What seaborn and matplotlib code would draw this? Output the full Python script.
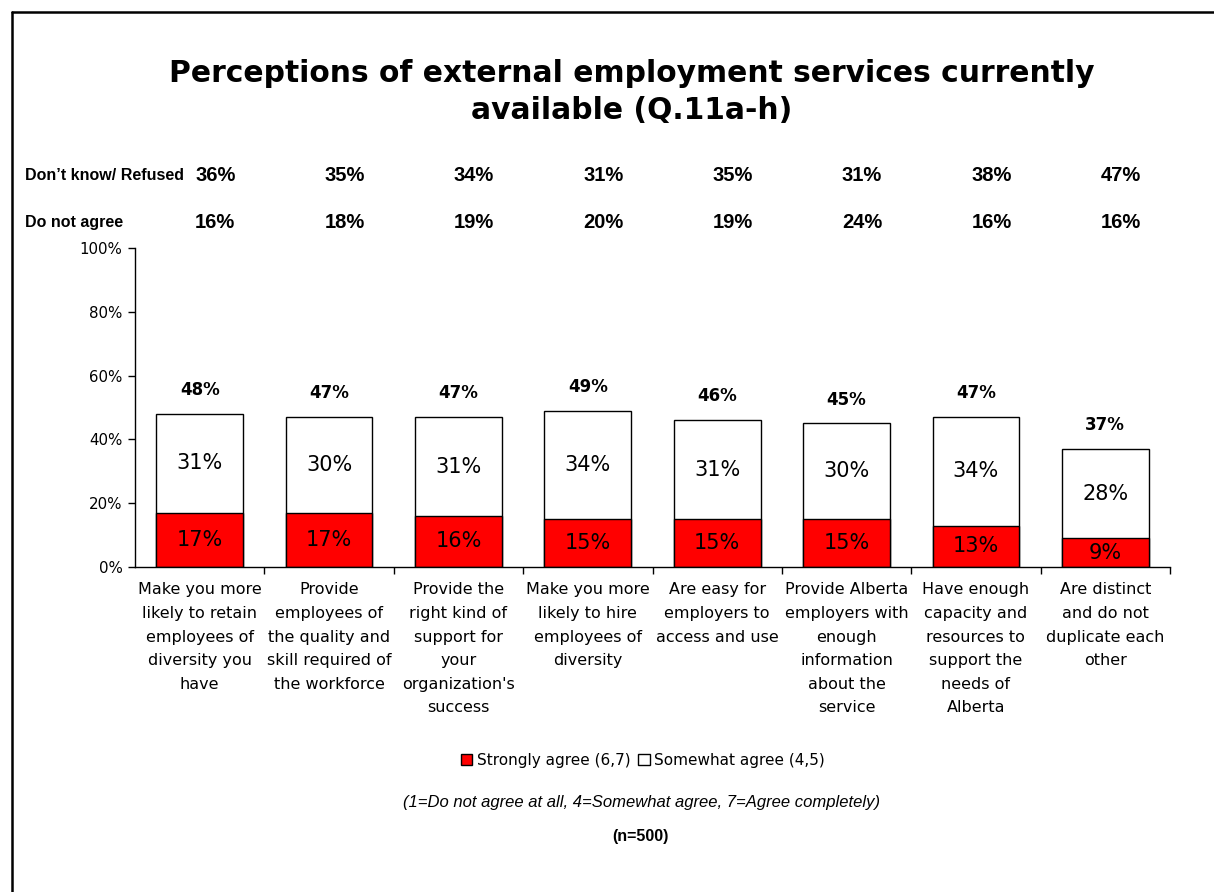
import matplotlib
matplotlib.use("Agg")
import matplotlib.pyplot as plt
import matplotlib.transforms as mtrans
import seaborn as sns
import pandas as pd
from matplotlib.patches import Patch
from matplotlib.lines import Line2D

categories = [
    "Make you more\nlikely to retain\nemployees of\ndiversity you\nhave",
    "Provide\nemployees of\nthe quality and\nskill required of\nthe workforce",
    "Provide the\nright kind of\nsupport for\nyour\norganization's\nsuccess",
    "Make you more\nlikely to hire\nemployees of\ndiversity",
    "Are easy for\nemployers to\naccess and use",
    "Provide Alberta\nemployers with\nenough\ninformation\nabout the\nservice",
    "Have enough\ncapacity and\nresources to\nsupport the\nneeds of\nAlberta",
    "Are distinct\nand do not\nduplicate each\nother",
]
strongly_agree = [17, 17, 16, 15, 15, 15, 13, 9]
somewhat_agree = [31, 30, 31, 34, 31, 30, 34, 28]
totals = [48, 47, 47, 49, 46, 45, 47, 37]
dont_know = [36, 35, 34, 31, 35, 31, 38, 47]
do_not_agree = [16, 18, 19, 20, 19, 24, 16, 16]
yticks = [0, 20, 40, 60, 80, 100]

sns.set_theme(style="white")
plt.rcParams["font.family"] = ["DejaVu Sans"]
plt.rcParams["text.color"] = "black"
plt.rcParams["xtick.color"] = "black"
plt.rcParams["ytick.color"] = "black"

W, H = 1214, 892
fig = plt.figure(figsize=(W / 100, H / 100), dpi=100)
ax = fig.add_axes([135 / W, 1 - 567 / H, (1170 - 135) / W, (567 - 248) / H])

df = pd.DataFrame({
    "cat": list(range(len(categories))),
    "total": [s + w for s, w in zip(strongly_agree, somewhat_agree)],
    "strong": strongly_agree,
})

sns.barplot(data=df, x="cat", y="total", color="white", edgecolor="black",
            linewidth=1.0, width=0.67, ax=ax, saturation=1)
sns.barplot(data=df, x="cat", y="strong", color="#ff0000", edgecolor="black",
            linewidth=1.0, width=0.67, ax=ax, saturation=1)

ax.set_xlim(-0.5, len(categories) - 0.5)
ax.set_ylim(0, 100)
ax.set_xlabel("")
ax.set_ylabel("")
ax.set_yticks(yticks)
ax.set_yticklabels([f"{v}%" for v in yticks], fontsize=10.8, color="black")
ax.set_xticks(range(len(categories)))
ax.set_xticklabels(categories, fontsize=11.5, linespacing=1.72, color="black")
ax.set_xticks([i + 0.5 for i in range(len(categories))], minor=True)
ax.tick_params(axis="x", which="major", length=0, pad=11)
ax.tick_params(axis="x", which="minor", length=5, width=1, color="black", direction="out", bottom=True)
ax.tick_params(axis="y", which="major", length=5, width=1, color="black", direction="out", left=True, pad=4)
for s in ["top", "right"]:
    ax.spines[s].set_visible(False)
for s in ["left", "bottom"]:
    ax.spines[s].set_color("black")
    ax.spines[s].set_linewidth(1.0)
ax.grid(False)

for i, (s, w, t) in enumerate(zip(strongly_agree, somewhat_agree, totals)):
    ax.text(i, s / 2, f"{s}%", ha="center", va="center", fontsize=15, color="black")
    ax.text(i, s + w / 2, f"{w}%", ha="center", va="center", fontsize=15, color="black")
    ax.text(i, s + w + 7.5, f"{t}%", ha="center", va="center", fontsize=12,
            fontweight="bold", color="black")

# Top rows
trans = mtrans.blended_transform_factory(ax.transData, fig.transFigure)
fig.text(25 / W, 1 - 175 / H, "Don\u2019t know/ Refused", fontsize=11.5, fontweight="bold",
         family="Liberation Sans", va="center", ha="left")
fig.text(25 / W, 1 - 223 / H, "Do not agree", fontsize=11.5, fontweight="bold",
         family="Liberation Sans", va="center", ha="left")
for i, (d, n) in enumerate(zip(dont_know, do_not_agree)):
    ax.text(i + 0.12, 1 - 175 / H, f"{d}%", transform=trans, ha="center", va="center",
            fontsize=14.5, fontweight="bold", family="Liberation Sans")
    ax.text(i + 0.12, 1 - 223 / H, f"{n}%", transform=trans, ha="center", va="center",
            fontsize=14.5, fontweight="bold", family="Liberation Sans")

fig.text(632 / W, 1 - 92 / H,
         "Perceptions of external employment services currently\navailable (Q.11a-h)",
         ha="center", va="center", fontsize=21.4, fontweight="bold", linespacing=1.38)

handles = [Patch(facecolor="#ff0000", edgecolor="black", linewidth=1.0),
           Patch(facecolor="white", edgecolor="black", linewidth=1.0)]
fig.legend(handles, ["Strongly agree (6,7)", "Somewhat agree (4,5)"], loc="center",
           bbox_to_anchor=(643 / W, 1 - 760 / H), ncol=2, frameon=False, fontsize=11,
           handlelength=0.75, handleheight=0.75, handletextpad=0.3, columnspacing=0.5)

fig.text(642 / W, 1 - 803 / H,
         "(1=Do not agree at all, 4=Somewhat agree, 7=Agree completely)",
         ha="center", va="center", fontsize=12, style="italic", family="Liberation Sans",
         color="black")
fig.text(640 / W, 1 - 837 / H, "(n=500)", ha="center", va="center", fontsize=11.5,
         fontweight="bold", family="Liberation Sans", color="black")

fig.add_artist(Line2D([12.5 / W, 12.5 / W], [0, 1 - 11.5 / H], color="black", lw=1.8,
                      transform=fig.transFigure))
fig.add_artist(Line2D([12.5 / W, 1], [1 - 11.5 / H, 1 - 11.5 / H], color="black", lw=1.8,
                      transform=fig.transFigure))

fig.savefig("out.png", dpi=100, facecolor="white")
